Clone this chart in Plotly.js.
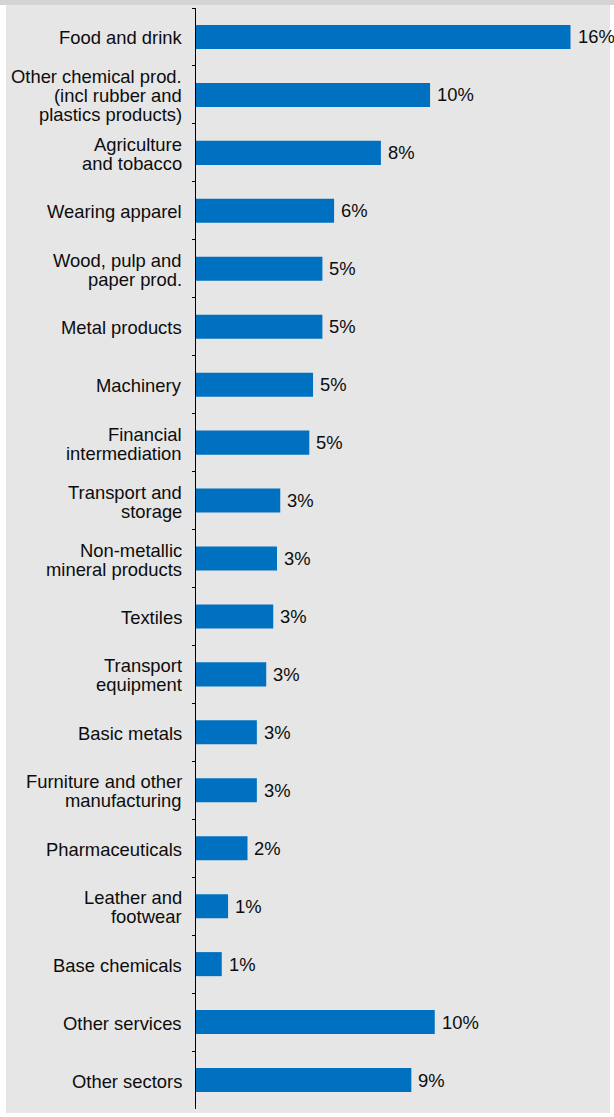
<!DOCTYPE html>
<html>
<head>
<meta charset="utf-8">
<script src="https://cdn.plot.ly/plotly-3.0.1.min.js"></script>
<style>
  html, body { margin: 0; padding: 0; background: #ffffff; }
  #strip { position: absolute; left: 0; top: 0; width: 614px; height: 5px; background: #d4d4d4; }
  #bg { position: absolute; left: 6px; top: 5px; width: 604px; height: 1108px; background: #e6e6e6; }
  #chart { position: absolute; left: 0; top: 0; width: 614px; height: 1117px; }
</style>
</head>
<body>
<div id="strip"></div>
<div id="bg"></div>
<div id="chart"></div>
<script>
const categories = [
  "Food and drink",
  "Other chemical prod.<br>(incl rubber and<br>plastics products)",
  "Agriculture<br>and tobacco",
  "Wearing apparel",
  "Wood, pulp and<br>paper prod.",
  "Metal products",
  "Machinery",
  "Financial<br>intermediation",
  "Transport and<br>storage",
  "Non-metallic<br>mineral products",
  "Textiles",
  "Transport<br>equipment",
  "Basic metals",
  "Furniture and other<br>manufacturing",
  "Pharmaceuticals",
  "Leather and<br>footwear",
  "Base chemicals",
  "Other services",
  "Other sectors"
];
const shares = [16.0, 10.0, 7.9, 5.9, 5.4, 5.4, 5.0, 4.84, 3.6, 3.46, 3.3, 3.0, 2.6, 2.6, 2.2, 1.37, 1.1, 10.2, 9.2];
const valueLabels = ["16%", "10%", "8%", "6%", "5%", "5%", "5%", "5%", "3%", "3%", "3%", "3%", "3%", "3%", "2%", "1%", "1%", "10%", "9%"];

const FONT = "Liberation Sans, Arial, sans-serif";
const FS = 18.4;
const LINE_H = 19;

const annotations = [];
categories.forEach((cat, i) => {
  const lines = cat.split("<br>");
  const n = lines.length;
  lines.forEach((ln, j) => {
    annotations.push({
      xref: "paper", yref: "y", x: 0, y: cat,
      text: ln, showarrow: false, xanchor: "right", yanchor: "middle",
      xshift: -12, yshift: ((n - 1) / 2 - j) * LINE_H - 1,
      font: {family: FONT, size: FS, color: "#0d0d0d"}
    });
  });
  annotations.push({
    xref: "x", yref: "y", x: shares[i], y: cat,
    text: valueLabels[i], showarrow: false, xanchor: "left", yanchor: "middle",
    xshift: 5,
    font: {family: FONT, size: FS, color: "#0d0d0d"}
  });
});

const trace = {
  type: "bar",
  orientation: "h",
  y: categories,
  x: shares,
  marker: {color: "#0070c0", line: {width: 0}},
  hoverinfo: "none"
};

const layout = {
  width: 614, height: 1117,
  margin: {l: 196, r: 14, t: 8, b: 8},
  paper_bgcolor: "rgba(0,0,0,0)",
  plot_bgcolor: "rgba(0,0,0,0)",
  bargap: 0.585,
  showlegend: false,
  font: {family: FONT, size: FS, color: "#0d0d0d"},
  xaxis: {range: [0, 17.26], showgrid: false, zeroline: false, showticklabels: false, showline: false, ticks: "", fixedrange: true},
  yaxis: {
    type: "category",
    categoryorder: "array", categoryarray: categories,
    autorange: "reversed",
    showticklabels: false,
    showgrid: false, zeroline: false,
    showline: true, linecolor: "#000000", linewidth: 1.3,
    ticks: "outside", tickson: "boundaries", ticklen: 3, tickwidth: 1, tickcolor: "#000000",
    fixedrange: true
  },
  annotations: annotations
};

Plotly.newPlot("chart", [trace], layout, {displayModeBar: false, staticPlot: true});
</script>
</body>
</html>
